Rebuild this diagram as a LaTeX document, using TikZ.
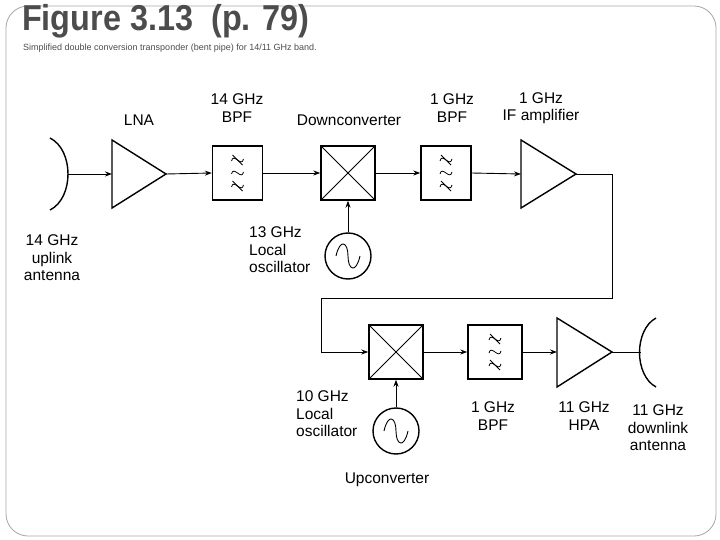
\documentclass[tikz,border=0pt]{standalone}
\usepackage{fontspec}
\setmainfont{Liberation Sans}
\usetikzlibrary{arrows.meta}
\begin{document}
\begin{tikzpicture}[x=1pt,y=-1pt,
  lab/.style={font=\fontsize{15.5}{17.5}\selectfont,align=center,inner sep=0},
  box/.style={draw,line width=1.4pt,minimum width=50pt,minimum height=54pt,inner sep=0},
  wire/.style={line width=0.9pt},
  arr/.style={wire,-{Stealth[length=7pt,width=5pt]}}]
\useasboundingbox (0,0) rectangle (720,540);
\draw[gray!70,line width=0.8pt,rounded corners=22pt] (6,6) rectangle (716,536);
\node[anchor=north west,inner sep=0,text=gray!60!black,font=\fontsize{36}{36}\selectfont\bfseries,xscale=0.9] (title) at (22,4) {Figure 3.13\ \ (p. 79)};
\node[anchor=west,inner sep=0,text=gray!60!black,font=\fontsize{9}{9}\selectfont] (sub) at (23,48) {Simplified double conversion transponder (bent pipe) for 14/11 GHz band.};
\tikzset{
 filt/.pic={
  \foreach \yy/\s in {-13/1,0/0,13/1}{
   \draw[line width=0.8pt] (-6,\yy+1) .. controls (-4,\yy-8) and (4,\yy+8) .. (6,\yy-1);
   \ifnum\s=1 \draw[line width=0.8pt] (-5,\yy-5) -- (5,\yy+5);\fi}
 },
 osc/.pic={\draw[line width=0.9pt] (-12,0) .. controls (-8,-18) and (0,-14) .. (0,0) .. controls (0,14) and (8,18) .. (12,0);}
}
% top row
\coordinate (ant1) at (68,174);
\draw[wire,line width=1.4pt] (50,138) .. controls (74,150) and (74,198) .. (50,210);
\draw[line width=1.4pt] (112,140) -- (166,174) -- (112,208) -- cycle;
\coordinate (lnaL) at (112,174); \coordinate (lnaR) at (166,174);
\node[box] (bpf1) at (237.5,173) {}; \pic at (bpf1) {filt};
\node[box,minimum width=54pt] (dc) at (348,173) {};
\draw[wire] (dc.north west) -- (dc.south east) (dc.north east) -- (dc.south west);
\node[box] (bpf2) at (446,173) {}; \pic at (bpf2) {filt};
\draw[line width=1.4pt] (521,140) -- (576,174) -- (521,208) -- cycle;
\coordinate (ifL) at (521,174); \coordinate (ifR) at (576,174);
\node[draw,circle,line width=1.4pt,minimum size=46pt,inner sep=0] (lo1) at (348,256) {}; \pic at (lo1) {osc};
\draw[arr] (ant1) -- (lnaL);
\draw[arr] (lnaR) -- (bpf1.west);
\draw[arr] (bpf1.east) -- (dc.west);
\draw[arr] (dc.east) -- (bpf2.west);
\draw[arr] (bpf2.east) -- (ifL);
\draw[arr] (lo1.north) -- (dc.south);
% bottom row
\node[box,minimum width=54pt] (uc) at (396,352) {};
\draw[wire] (uc.north west) -- (uc.south east) (uc.north east) -- (uc.south west);
\node[box,minimum width=54pt] (bpf3) at (495,352) {}; \pic at (bpf3) {filt};
\draw[line width=1.4pt] (557,318) -- (612,352) -- (557,387) -- cycle;
\coordinate (hpaL) at (557,352); \coordinate (hpaR) at (612,352);
\node[draw,circle,line width=1.4pt,minimum size=46pt,inner sep=0] (lo2) at (396,431) {}; \pic at (lo2) {osc};
\coordinate (ant2) at (641,352);
\draw[line width=1.4pt] (656,318) .. controls (634,330) and (634,375) .. (656,387);
\coordinate (c1) at (612,174); \coordinate (c2) at (612,298); \coordinate (c3) at (321,298); \coordinate (c4) at (321,352);
\draw[arr] (ifR) -- (c1) -- (c2) -- (c3) -- (c4) -- (uc.west);
\draw[arr] (lo2.north) -- (uc.south);
\draw[arr] (uc.east) -- (bpf3.west);
\draw[arr] (bpf3.east) -- (hpaL);
\draw[wire] (hpaR) -- (ant2);
% labels
\node[lab] (t1) at (139,120) {LNA};
\node[lab] (t2) at (237,108) {14 GHz\\BPF};
\node[lab] (t3) at (349,120) {Downconverter};
\node[lab] (t4) at (452,108) {1 GHz\\BPF};
\node[lab] (t5) at (541,108) {1 GHz\\IF amplifier};
\node[lab] (t6) at (52,258) {14 GHz\\uplink\\antenna};
\node[lab,align=left,anchor=west] (t7) at (249,250) {13 GHz\\Local\\oscillator};
\node[lab,align=left,anchor=west] (t8) at (296,414) {10 GHz\\Local\\oscillator};
\node[lab] (t9) at (493,416) {1 GHz\\BPF};
\node[lab] (t10) at (584,416) {11 GHz\\HPA};
\node[lab] (t11) at (658,428) {11 GHz\\downlink\\antenna};
\node[lab] (t12) at (387,480) {Upconverter};
\end{tikzpicture}
\end{document}
